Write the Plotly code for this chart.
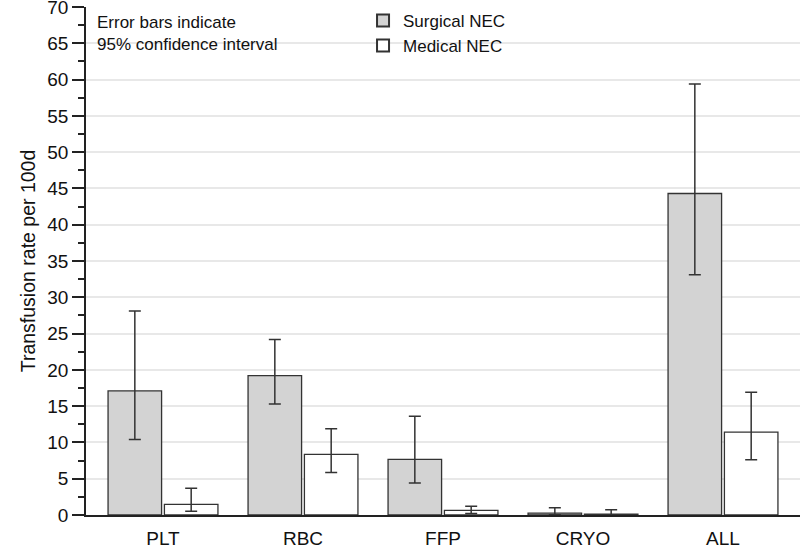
import plotly.graph_objects as go

categories = ["PLT", "RBC", "FFP", "CRYO", "ALL"]
surgical = [17.1, 19.2, 7.66, 0.27, 44.3]
surgical_hi = [28.1, 24.2, 13.6, 1.0, 59.4]
surgical_lo = [10.4, 15.3, 4.4, 0.05, 33.1]
medical = [1.46, 8.35, 0.64, 0.1, 11.43]
medical_hi = [3.67, 11.9, 1.19, 0.73, 16.9]
medical_lo = [0.5, 5.87, 0.2, 0.0, 7.6]

def err(vals, hi, lo, color):
    return dict(type="data", symmetric=False,
                array=[h - v for v, h in zip(vals, hi)],
                arrayminus=[v - l for v, l in zip(vals, lo)],
                color=color, thickness=1.5, width=6)

fig = go.Figure()
fig.add_trace(go.Bar(x=categories, y=surgical, name="Surgical NEC",
                     marker=dict(color="#d3d3d3", line=dict(color="#333333", width=1.3)),
                     error_y=err(surgical, surgical_hi, surgical_lo, "#333333")))
fig.add_trace(go.Bar(x=categories, y=medical, name="Medical NEC",
                     marker=dict(color="#ffffff", line=dict(color="#333333", width=1.3)),
                     error_y=err(medical, medical_hi, medical_lo, "#333333")))

fig.update_layout(
    width=800, height=549,
    margin=dict(l=86, r=0, t=7, b=34, autoexpand=False),
    paper_bgcolor="white", plot_bgcolor="white",
    font=dict(family="Liberation Sans, Arial, sans-serif", color="#111111"),
    barmode="group", bargap=0.195, bargroupgap=0.05,
    showlegend=True,
    legend=dict(x=0.388, y=1.008, xanchor="left", yanchor="top",
                bgcolor="rgba(0,0,0,0)", font=dict(size=17),
                tracegroupgap=0, itemsizing="constant"),
    annotations=[dict(text="Error bars indicate<br>95% confidence interval",
                      xref="paper", yref="paper", x=0.012, y=0.992,
                      xanchor="left", yanchor="top", align="left",
                      showarrow=False, font=dict(size=17))],
)
fig.update_xaxes(range=[-0.55, 4.55], showline=True, linecolor="#222222", linewidth=1.5,
                 ticks="", tickfont=dict(size=19), showgrid=False, automargin=False,
                 ticklabelstandoff=5)
fig.update_yaxes(range=[0, 70], dtick=5, showline=True, linecolor="#222222", linewidth=1.5,
                 ticks="outside", ticklen=12, tickcolor="#222222", tickwidth=1.5,
                 tickfont=dict(size=19), showgrid=True, gridcolor="#e8e8e8", gridwidth=1.5,
                 zeroline=False, automargin=False, ticklabeloverflow="allow",
                 minor=dict(dtick=2.5, ticks="outside", ticklen=6, tickcolor="#222222",
                            tickwidth=1.5, showgrid=False),
                 title=dict(text="Transfusion rate per 100d", font=dict(size=19.5), standoff=6))

fig.write_html("out.html", post_script="document.body.style.margin='0';",
               config={"displayModeBar": False})
